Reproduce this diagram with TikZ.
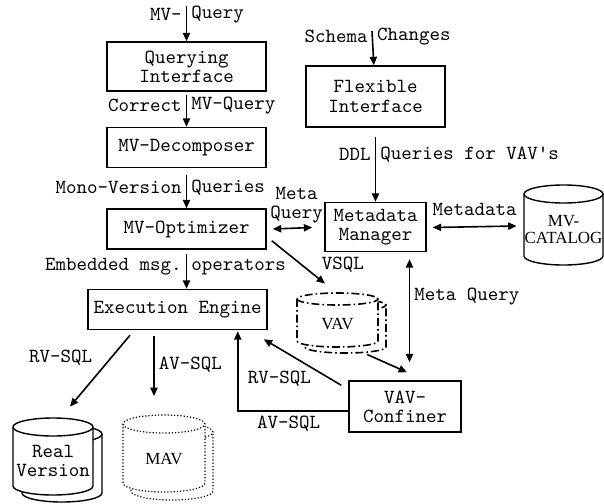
\documentclass[tikz,border=0pt]{standalone}
\usepackage{fontspec}
\setmainfont{Liberation Serif}
\usetikzlibrary{positioning, arrows.meta, calc}

% cylinder outline: style, centre x, top y, width, height, end radius (px)
\newcommand{\drumshape}[6]{%
  \draw[#1, fill=white] (#2-#4/2,#3+#6)
    -- (#2-#4/2,#3+#5-#6) arc[start angle=180, end angle=360, x radius=#4*0.25pt, y radius=#6*0.5pt]
    -- (#2+#4/2,#3+#6) arc[start angle=0, end angle=180, x radius=#4*0.25pt, y radius=#6*0.5pt] -- cycle;
  \draw[#1] (#2-#4/2,#3+#6) arc[start angle=180, end angle=360, x radius=#4*0.25pt, y radius=#6*0.5pt];
}

\tikzset{
  sz/.style 2 args={minimum width=#1*0.5pt, minimum height=#2*0.5pt},
  tip/.tip={Triangle[length=4.2pt, width=3.6pt]},
}

\begin{document}
\begin{tikzpicture}[x=0.5pt, y=-0.5pt,
  font=\fontsize{10}{9.6}\selectfont\ttfamily,
  bx/.style={draw, line width=0.75pt, align=center, inner sep=0pt},
  lbl/.style={inner sep=2pt},
  arr/.style={-tip, line width=0.8pt},
  darr/.style={tip-tip, line width=0.8pt},
  db/.style={line width=0.7pt},
  dbdot/.style={line width=0.6pt, densely dotted},
  dbdash/.style={line width=0.8pt, dash pattern=on 4pt off 1.5pt on 0.8pt off 1.5pt},
  dbtxt/.style={align=center, inner sep=0pt, font=\fontsize{8.5}{8.5}\selectfont\rmfamily}]
\useasboundingbox (0,0) rectangle (604,503);

\node[bx, sz={159}{49}] (qi) at (186.5,66.5) {Querying\\Interface};
\node[bx, sz={159}{40}, below=17.5pt of qi] (dec) {MV-Decomposer};
\node[bx, sz={159}{40}, below=20pt of dec] (opt) {MV-Optimizer};
\node[bx, sz={179}{40}, below=19.5pt of opt, xshift=-4.5pt] (eng) {Execution Engine};
\node[bx, sz={139}{61}] (flex) at (375.5,96.5) {Flexible\\Interface};
\node[bx, sz={101}{49}, below=37pt of flex] (mm) {Metadata\\Manager};
\node[bx, sz={112}{51}] (conf) at (405,406.5) {VAV-\\Confiner};

% databases
\drumshape{db}{563.5}{185}{79}{80}{9}
\drumshape{dbdash}{345.5}{299}{81}{54}{6}
\drumshape{dbdash}{337.5}{293}{81}{54}{6}
\drumshape{db}{62}{425}{80}{77}{9}
\drumshape{db}{53}{418}{80}{77}{9}
\drumshape{dbdot}{172}{423}{82}{77}{9}
\drumshape{dbdot}{164}{415}{82}{77}{9}
\node[dbtxt, sz={79}{71}] (cat) at (563.5,229.5) {MV-\\CATALOG};
\node[dbtxt, sz={81}{48}] (vav) at (337.5,324) {VAV};
\node[dbtxt, sz={80}{68}, font=\fontsize{10}{9.6}\selectfont\ttfamily] (rv) at (53,461) {Real\\Version};
\node[dbtxt, sz={82}{68}] (mav) at (164,459.5) {MAV};

\coordinate (qin) at (186.5,6);
\coordinate (sin) at (372,31);

\draw[arr] (qin) -- node[lbl,pos=.25,left]{MV-} node[lbl,pos=.25,right]{Query} (qi);
\draw[arr, shorten <=1.5pt] (qi) -- node[lbl,pos=.4,left]{Correct} node[lbl,pos=.4,right]{MV-Query} (dec);
\draw[arr, shorten <=3.5pt] (dec) -- node[lbl,pos=.48,left]{Mono-Version} node[lbl,pos=.48,right]{Queries} (opt);
\draw[arr] ([shift={(0,4)}]opt.south) -- node[lbl,pos=.37,left]{Embedded msg.} node[lbl,pos=.37,right]{operators} ([shift={(9,0)}]eng.north);
\draw[arr] (sin) -- node[lbl,pos=.17,left]{Schema} node[lbl,pos=.17,right]{Changes} (flex);
\draw[arr, shorten <=4.5pt] (flex) -- node[lbl,pos=.36,left]{DDL} node[lbl,pos=.36,right]{Queries for VAV's} (mm);

\draw[darr] ([shift={(6,0)}]opt.east) -- node[lbl,above,align=center,xshift=2pt]{Meta\\Query} ([shift={(-12,0.5)}]mm.west);
\draw[darr] ([shift={(6,0.5)}]mm.east) -- node[lbl,above,yshift=3pt]{Metadata} ([shift={(-7,-3.5)}]cat.west);
\draw[arr] ([shift={(5,-9)}]opt.south east) -- node[lbl,pos=.85,above right]{VSQL} ([shift={(-12.5,-16)}]vav.north);
\draw[darr] ([shift={(34,7)}]mm.south) -- node[lbl,pos=.36,right]{Meta Query} ([shift={(4.5,-18)}]conf.north);
\draw[arr] ([shift={(29.5,6)}]vav.south) -- ([shift={(2,-8)}]conf.north);

\draw[arr] ([shift={(-7,5)}]conf.north west) -- node[lbl,pos=.8,below=9pt]{RV-SQL} ([shift={(-4,9)}]eng.south east);
\draw[arr] ([shift={(0,4.5)}]conf.west) -| node[lbl,pos=.27,below]{AV-SQL} ([shift={(-30,1)}]eng.south east);
\draw[arr] ([shift={(-47.5,5)}]eng.south) -- node[lbl,pos=.32,left=7pt]{RV-SQL} ([shift={(17,-20)}]rv.north);
\draw[arr] ([shift={(-23.5,6)}]eng.south) -- node[lbl,pos=.47,right]{AV-SQL} ([shift={(-10,-29)}]mav.north);

\end{tikzpicture}
\end{document}
